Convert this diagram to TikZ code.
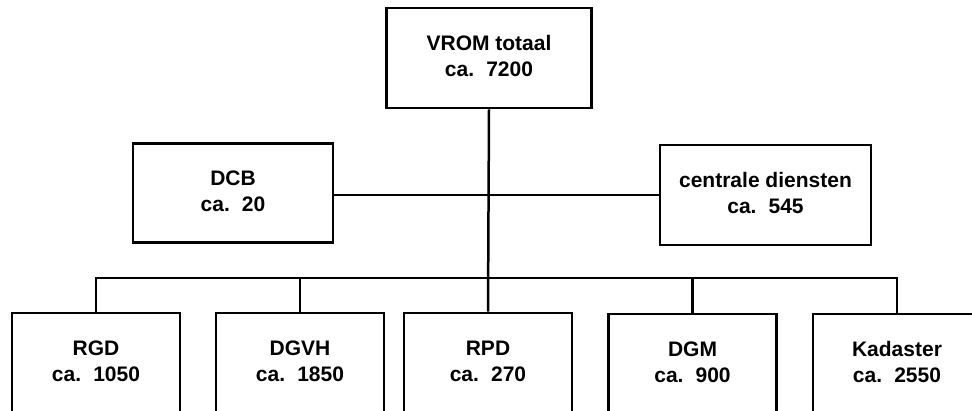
\documentclass[tikz,border=0pt]{standalone}
\usepackage{fontspec}
\setmainfont{Liberation Sans}
\newcommand{\lbl}[2]{\raisebox{#2}{\begin{tabular}{@{}c@{}}#1\end{tabular}}}
\begin{document}
\begin{tikzpicture}[x=1pt,y=-1pt,
  box/.style={draw, line width=2.7pt, minimum width=168pt, minimum height=100pt, inner sep=0pt,
    font=\fontsize{21}{26}\selectfont\bfseries},
  link/.style={line width=2.5pt}]
\useasboundingbox (0,0) rectangle (972,410);
\clip (0,0) rectangle (972,410);
\fill[white] (0,0) rectangle (972,410);
\node[box, minimum width=205pt] (vrom) at (489,58) {\lbl{VROM totaal\\ca.\kern0.3em\ 7200}{7.5pt}};
\node[box, minimum width=200pt, minimum height=99pt] (dcb) at (233,193) {\lbl{DCB\\ca.\kern0.3em\ 20}{3pt}};
\node[box, minimum width=211pt] (cd) at (765.5,195) {\lbl{centrale diensten\\ca.\kern0.3em\ 545}{0pt}};
\node[box] (rgd) at (96,363) {\lbl{RGD\\ca.\kern0.3em\ 1050}{2.5pt}};
\node[box] (dgvh) at (300,363) {\lbl{DGVH\\ca.\kern0.3em\ 1850}{2.5pt}};
\node[box] (rpd) at (488,363) {\lbl{RPD\\ca.\kern0.3em\ 270}{2.5pt}};
\node[box] (dgm) at (692.5,364) {\lbl{DGM\\ca.\kern0.3em\ 900}{2.5pt}};
\node[box] (kad) at (897,364) {\lbl{Kadaster\\ca.\kern0.3em\ 2550}{2.5pt}};
\coordinate (bus) at (489,278);
\draw[link] (vrom.south) -- (rpd.north);
\draw[link] (dcb.east |- cd.west) -- (cd.west);
\draw[link] (rgd.north) |- (bus) -| (kad.north);
\draw[link] (dgvh.north) -- (dgvh.north |- bus);
\draw[link] (dgm.north) -- (dgm.north |- bus);
\end{tikzpicture}
\end{document}
